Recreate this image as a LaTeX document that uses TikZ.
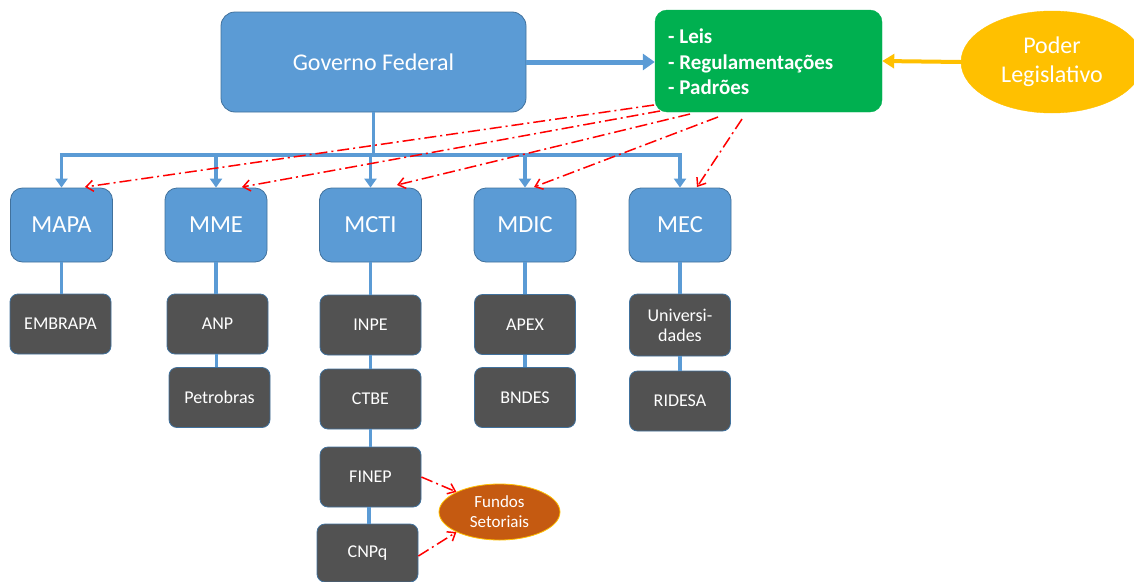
\documentclass[tikz,border=0pt]{standalone}
\usepackage{fontspec}
\setmainfont{Carlito}
\usetikzlibrary{arrows.meta,shapes.geometric}
\definecolor{blu}{HTML}{5B9BD5}
\definecolor{bluedge}{HTML}{41719C}
\definecolor{dark}{HTML}{525252}
\definecolor{grn}{HTML}{00B050}
\definecolor{yel}{HTML}{FFC000}
\definecolor{org}{HTML}{C55A11}
\tikzset{
  ministry/.style={draw=bluedge, line width=0.8pt, fill=blu, rounded corners=12pt, text=white, font=\fontsize{24.5}{26}\selectfont, minimum width=102pt, minimum height=74pt, inner sep=0pt},
  darkbox/.style={draw=bluedge, line width=0.8pt, fill=dark, rounded corners=8pt, text=white, font=\fontsize{18}{21}\selectfont, minimum width=101pt, minimum height=60pt, inner sep=0pt, align=center},
  bus/.style={draw=blu, line width=3.5pt},
  busarrow/.style={draw=blu, line width=3.5pt, -{Triangle[length=9pt,width=12pt]}},
  redarrow/.style={draw=red, line width=1.5pt, dash pattern=on 12pt off 4pt on 2pt off 4pt, -{Straight Barb[length=7pt,width=11pt,line width=1.5pt]}}
}
\begin{document}
\begin{tikzpicture}[x=1pt,y=-1pt]
\useasboundingbox (0,0) rectangle (1134,581);
% top
\node[draw=bluedge, line width=0.8pt, fill=blu, rounded corners=14pt, text=white, font=\fontsize{24}{26}\selectfont, minimum width=305pt, minimum height=100pt, inner sep=0pt] (gov) at (373.5,62) {Governo Federal};
\node[draw=grn, fill=grn, rounded corners=12pt, minimum width=227pt, minimum height=102pt, inner sep=0pt] (leis) at (768.5,61) {};
\node[anchor=west, text=white, font=\bfseries\fontsize{21}{25.5}\selectfont, align=left, inner sep=0pt] (leistxt) at (668,62) {- Leis\\- Regulamentações\\- Padrões};
\node[ellipse, draw=yel, fill=yel, minimum width=182pt, minimum height=102pt, inner sep=0pt, text=white, font=\fontsize{24}{29}\selectfont, align=center] (poder) at (1052,62) {Poder\\Legislativo};
\draw[draw=blu, line width=5pt, -{Triangle[length=12pt,width=16pt]}] (gov.east) -- (leis.west |- gov.east);
\draw[draw=yel, line width=4pt, -{Triangle[length=12pt,width=14pt]}] (poder.west) -- (leis.east);
% ministries
\node[ministry] (mapa) at (61.5,225) {MAPA};
\node[ministry] (mme) at (216,225) {MME};
\node[ministry] (mcti) at (370.5,225) {MCTI};
\node[ministry] (mdic) at (525,225) {MDIC};
\node[ministry] (mec) at (680,225) {MEC};
\coordinate (busL) at (61.5,155);
\coordinate (busR) at (680,155);
\draw[bus] (gov.south) -- (gov.south |- busL);
\draw[bus, line cap=butt] ([xshift=-1.75pt]busL) -- ([xshift=1.75pt]busR);
\foreach \m in {mapa,mme,mcti,mdic,mec}{
  \draw[busarrow] (\m.north |- busL) -- (\m.north);
}
% sub boxes
\node[darkbox] (embrapa) at (60.5,324) {EMBRAPA};
\node[darkbox] (anp) at (217.5,324) {ANP};
\node[darkbox] (petro) at (219.5,397.5) {Petrobras};
\node[darkbox] (inpe) at (370.5,325) {INPE};
\node[darkbox] (ctbe) at (370.5,399) {CTBE};
\node[darkbox] (finep) at (370.5,477) {FINEP};
\node[darkbox, minimum height=58pt] (cnpq) at (367.5,553) {CNPq};
\node[darkbox] (apex) at (525,324.5) {APEX};
\node[darkbox] (bndes) at (525,397.5) {BNDES};
\node[darkbox, minimum height=62pt] (univ) at (680,325) {Universi-\\[-1pt]dades};
\node[darkbox] (ridesa) at (680,401) {RIDESA};
\draw[bus] (mapa.south) -- (mapa.south |- embrapa.north);
\draw[bus] (mme.south) -- (mme.south |- anp.north);
\draw[bus] ([xshift=-1pt]anp.south) -- ([xshift=-1pt]anp.south |- petro.north);
\draw[bus] (mcti.south) -- (inpe.north);
\draw[bus] (inpe.south) -- (ctbe.north);
\draw[bus] (ctbe.south) -- (finep.north);
\draw[bus] ([xshift=-1.5pt]finep.south) -- ([xshift=-1.5pt]finep.south |- cnpq.north);
\draw[bus] (mdic.south) -- (apex.north);
\draw[bus] (apex.south) -- (bndes.north);
\draw[bus] (mec.south) -- (univ.north);
\draw[bus] (univ.south) -- (ridesa.north);
% fundos
\node[ellipse, draw=yel, line width=0.8pt, fill=org, minimum width=121pt, minimum height=56pt, inner sep=0pt, text=white, font=\fontsize{17}{20}\selectfont, align=center] (fundos) at (499.5,512) {Fundos\\Setoriais};
% red arrows
\coordinate (s1) at (654,105);
\coordinate (s2) at (660,111);
\coordinate (s3) at (690,114);
\coordinate (s4) at (718,117);
\coordinate (s5) at (742,119);
\coordinate (e1) at (85,187);
\coordinate (e2) at (242,187);
\coordinate (e3) at (397,185);
\coordinate (e4) at (534,187);
\coordinate (e5) at (697,187);
\draw[redarrow] (s1) -- (e1);
\draw[redarrow] (s2) -- (e2);
\draw[redarrow] (s3) -- (e3);
\draw[redarrow] (s4) -- (e4);
\draw[redarrow] (s5) -- (e5);
\draw[redarrow] (finep.east) -- (fundos.north west);
\draw[redarrow] ([yshift=-3pt]cnpq.east) -- (fundos.south west);
\end{tikzpicture}
\end{document}
